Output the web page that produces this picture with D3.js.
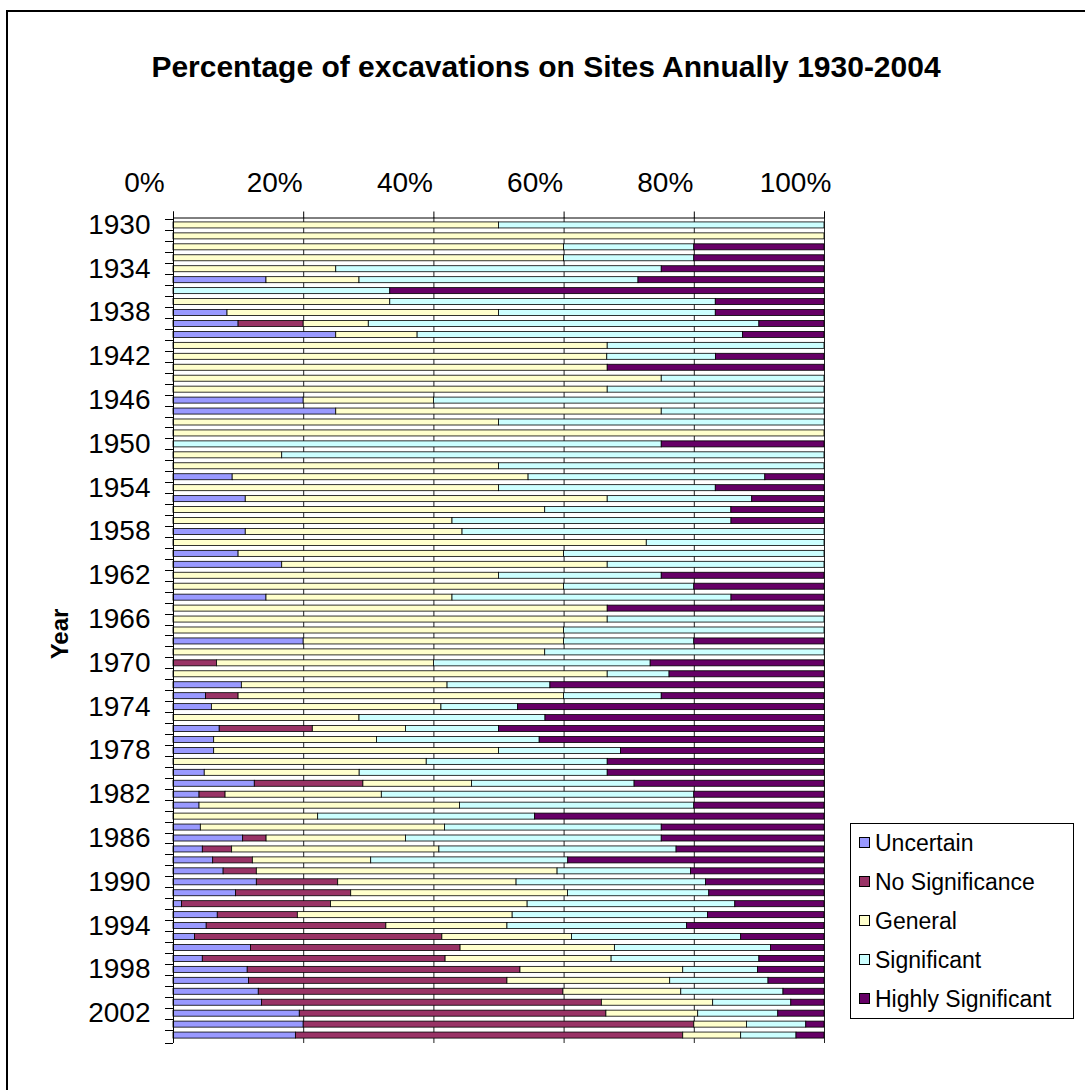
<!DOCTYPE html>
<html>
<head>
<meta charset="utf-8">
<script src="https://cdn.jsdelivr.net/npm/d3@7"></script>
<style>
  body { margin: 0; background: #fff; }
  svg { font-family: "Liberation Sans", Arial, sans-serif; }
</style>
</head>
<body>
<svg id="chart" width="1085" height="1090"></svg>
<script>
// years shown as categories, top to bottom
const years = d3.range(1930, 2005);
const yearLabels = d3.range(1930, 2005, 4);
const xTicks = [0, 0.2, 0.4, 0.6, 0.8, 1];

const seriesNames = ["Uncertain", "No Significance", "General", "Significant", "Highly Significant"];
const seriesColors = ["#9999ff", "#993366", "#ffffcc", "#ccffff", "#660066"];

// percentages, one value per year
const uncertain = [
  0, 0, 0, 0, 0, 14.3, 0, 0, 8.3, 10,
  25, 0, 0, 0, 0, 0, 20, 25, 0, 0,
  0, 0, 0, 9.1, 0, 11.1, 0, 0, 11.1, 0,
  10, 16.7, 0, 0, 14.3, 0, 0, 0, 20, 0,
  0, 0, 10.5, 5, 5.9, 0, 7.1, 6.25, 6.25, 0,
  4.8, 12.5, 4, 4, 0, 4.2, 10.7, 4.5, 6.1, 7.7,
  12.8, 9.6, 1.3, 6.8, 5.1, 3.3, 11.9, 4.5, 11.4, 11.6,
  13.1, 13.6, 19.4, 20, 18.8
];
const noSignificance = [
  0, 0, 0, 0, 0, 0, 0, 0, 0, 10,
  0, 0, 0, 0, 0, 0, 0, 0, 0, 0,
  0, 0, 0, 0, 0, 0, 0, 0, 0, 0,
  0, 0, 0, 0, 0, 0, 0, 0, 0, 0,
  6.7, 0, 0, 5, 0, 0, 14.3, 0, 0, 0,
  0, 16.7, 4, 0, 0, 0, 3.6, 4.5, 6.1, 5.1,
  12.5, 17.7, 22.9, 12.3, 27.6, 38, 32.2, 37.3, 41.9, 39.7,
  46.8, 52.2, 47.1, 60, 59.5
];
const general = [
  50, 100, 60, 60, 25, 14.3, 0, 33.3, 41.7, 10,
  12.5, 66.7, 66.7, 66.7, 75, 66.7, 20, 50, 50, 100,
  0, 16.7, 50, 45.5, 50, 55.6, 57.1, 42.9, 33.3, 72.7,
  50, 50, 50, 60, 28.6, 66.7, 66.7, 60, 40, 57.1,
  33.3, 66.7, 31.6, 50, 35.3, 28.6, 14.3, 25, 43.75, 38.9,
  23.8, 16.7, 24, 40, 22.2, 37.5, 21.4, 31.8, 18.2, 46.2,
  27.4, 33.3, 30.2, 33, 18.6, 19.9, 23.7, 25.5, 25, 25,
  18.1, 17.1, 14.1, 8.1, 8.9
];
const significant = [
  50, 0, 20, 20, 50, 42.9, 33.3, 50, 33.3, 60,
  50, 33.3, 16.7, 0, 25, 33.3, 60, 25, 50, 0,
  75, 83.3, 50, 36.4, 33.3, 22.2, 28.6, 42.9, 55.6, 27.3,
  40, 33.3, 25, 20, 42.9, 0, 33.3, 40, 20, 42.9,
  33.3, 9.5, 15.8, 15, 11.8, 28.6, 14.3, 25, 18.75, 27.8,
  38.1, 25, 48, 36, 33.3, 33.3, 39.3, 36.4, 30.3, 20.5,
  29.1, 21.7, 31.9, 30, 27.6, 26, 24, 22.7, 11.5, 15.1,
  15.7, 12, 12.3, 9.1, 8.5
];
const highlySignificant = [
  0, 0, 20, 20, 25, 28.6, 66.7, 16.7, 16.7, 10,
  12.5, 0, 16.7, 33.3, 0, 0, 0, 0, 0, 0,
  25, 0, 0, 9.1, 16.7, 11.1, 14.3, 14.3, 0, 0,
  0, 0, 25, 20, 14.3, 33.3, 0, 0, 20, 0,
  26.7, 23.8, 42.1, 25, 47.1, 42.9, 50, 43.75, 31.25, 33.3,
  33.3, 29.2, 20, 20, 44.4, 25, 25, 22.7, 39.4, 20.5,
  18.2, 17.7, 13.7, 17.9, 21.1, 12.8, 8.2, 10, 10.2, 8.6,
  6.3, 5.1, 7.1, 2.8, 4.3
];

const seriesValues = [uncertain, noSignificance, general, significant, highlySignificant];

// table for d3.stack
const table = years.map((yr, i) => {
    let row = { year: yr };
    seriesNames.forEach((name, s) => { row[name] = seriesValues[s][i]; });
    return row;
});

const stacked = d3.stack()
    .keys(seriesNames)
    .offset(d3.stackOffsetExpand)(table);

const svg = d3.select('#chart');

// chart area border
svg.append('rect')
    .attr('x', 7).attr('y', 11)
    .attr('width', 1100).attr('height', 1100)
    .attr('fill', 'none')
    .attr('stroke', '#000')
    .attr('stroke-width', 2);

let plotLeft = 173, plotRight = 824, plotTop = 217, plotBottom = 1043;

let xscale = d3.scaleLinear()
    .domain([0, 1])
    .range([plotLeft, plotRight]);

let yscale = d3.scaleBand()
    .domain(years)
    .range([plotTop, plotBottom])
    .padding(0.45);

// vertical gridlines
svg.append('g')
    .selectAll('line')
    .data(xTicks.slice(1))
    .join('line')
    .attr('x1', d => xscale(d) + 0.5)
    .attr('x2', d => xscale(d) + 0.5)
    .attr('y1', plotTop)
    .attr('y2', plotBottom)
    .attr('stroke', '#222')
    .attr('stroke-width', 1);

// bars
svg.append('g')
    .selectAll('g')
    .data(stacked)
    .join('g')
    .attr('fill', (d, i) => seriesColors[i])
    .selectAll('rect')
    .data(d => d.filter(p => p[1] - p[0] > 0))
    .join('rect')
    .attr('x', d => xscale(d[0]))
    .attr('width', d => xscale(d[1]) - xscale(d[0]))
    .attr('y', d => yscale(d.data.year))
    .attr('height', yscale.bandwidth())
    .attr('stroke', '#000')
    .attr('stroke-width', 0.8);

// top axis (labels sit a little left of their gridlines, as in the original)
let xaxis = d3.axisTop(xscale)
    .tickValues(xTicks)
    .tickFormat(d3.format('.0%'))
    .tickSizeOuter(0)
    .tickSize(6)
    .tickPadding(20);

let gx = svg.append('g')
    .attr('transform', `translate(0, ${plotTop + 0.5})`)
    .call(xaxis);
gx.select('.domain').attr('stroke', '#000');
gx.selectAll('text')
    .attr('font-size', 28)
    .attr('dx', -29)
    .attr('fill', '#000')
    .attr('font-family', '"Liberation Sans", Arial, sans-serif');

// left axis: labels every 4 years, ticks on category boundaries
let yaxis = d3.axisLeft(yscale)
    .tickValues(yearLabels)
    .tickSize(0)
    .tickPadding(23);

let gy = svg.append('g')
    .attr('transform', `translate(${plotLeft + 0.5}, 0)`)
    .call(yaxis);
gy.select('.domain').remove();
gy.selectAll('text')
    .attr('font-size', 28)
    .attr('fill', '#000')
    .attr('font-family', '"Liberation Sans", Arial, sans-serif');

let halfGap = (yscale.step() - yscale.bandwidth()) / 2;
let boundaries = years.map(yr => yscale(yr) - halfGap).concat([plotBottom]);

svg.append('line')
    .attr('x1', plotLeft + 0.5).attr('x2', plotLeft + 0.5)
    .attr('y1', plotTop).attr('y2', plotBottom)
    .attr('stroke', '#000');

svg.append('g')
    .selectAll('line')
    .data(boundaries)
    .join('line')
    .attr('x1', plotLeft - 8)
    .attr('x2', plotLeft)
    .attr('y1', d => Math.round(d) + 0.5)
    .attr('y2', d => Math.round(d) + 0.5)
    .attr('stroke', '#000');

// title
svg.append('text')
    .attr('x', 546)
    .attr('y', 77)
    .attr('text-anchor', 'middle')
    .attr('font-size', 30)
    .attr('font-weight', 'bold')
    .text('Percentage of excavations on Sites Annually 1930-2004');

// y axis title
svg.append('text')
    .attr('transform', `translate(68, 634) rotate(-90)`)
    .attr('text-anchor', 'middle')
    .attr('font-size', 24)
    .attr('font-weight', 'bold')
    .text('Year');

// legend
let legend = svg.append('g');
legend.append('rect')
    .attr('x', 850.5).attr('y', 823.5)
    .attr('width', 223).attr('height', 195)
    .attr('fill', '#fff')
    .attr('stroke', '#000');

let items = legend.selectAll('g.item')
    .data(seriesNames)
    .join('g')
    .attr('class', 'item')
    .attr('transform', (d, i) => `translate(859, ${843 + i * 39})`);

items.append('rect')
    .attr('x', 0.5).attr('y', -5.5)
    .attr('width', 10).attr('height', 10)
    .attr('fill', (d, i) => seriesColors[i])
    .attr('stroke', '#000');

items.append('text')
    .attr('x', 16)
    .attr('y', 8)
    .attr('font-size', 23)
    .text(d => d);
</script>
</body>
</html>
